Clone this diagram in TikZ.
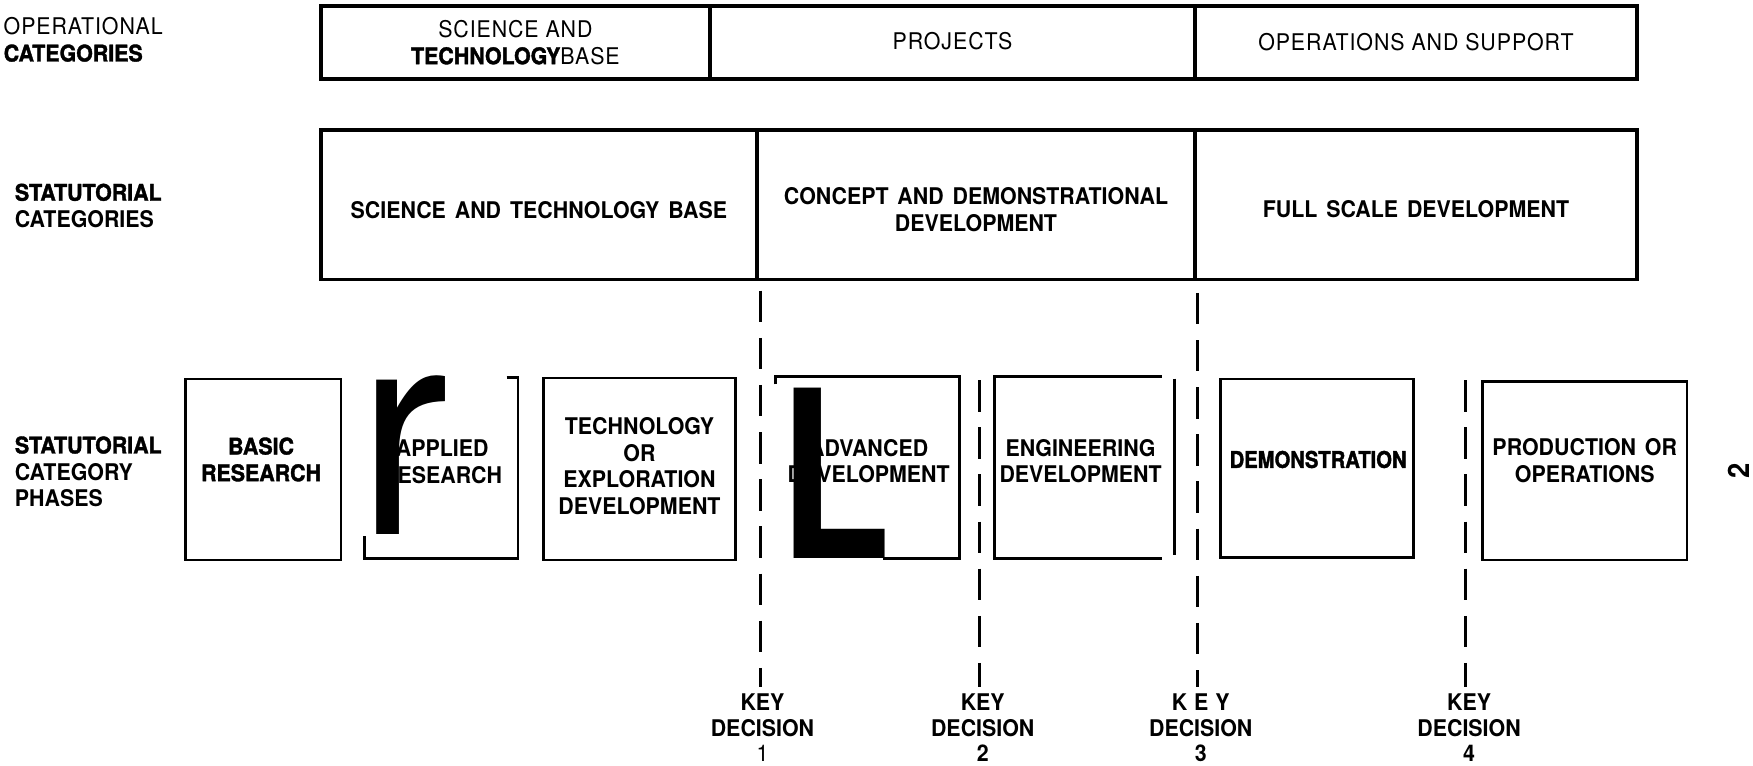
\documentclass[tikz,border=0pt]{standalone}
\usepackage{fontspec}
\setmainfont{TeX Gyre Heros}[FakeStretch=0.93, WordSpace=1.5]
\newfontfamily\lightfont{TeX Gyre Heros}[FakeStretch=0.93, LetterSpace=4]
\newfontfamily\heavyfont{texgyreheros-bold.otf}[FakeStretch=0.93, FakeBold=1.6]
\newfontfamily\glyphfont{TeX Gyre Heros}[FakeStretch=0.78]
\usetikzlibrary{fit}

\tikzset{
  opbox/.style={draw=black, line width=2pt, inner sep=0pt},
  statbox/.style={draw=black, line width=1.9pt, inner sep=0pt},
  phase/.style={draw=black, line width=1.4pt, inner sep=0pt},
  outline/.style={draw=black, line width=1.4pt},
  optext/.style={inner sep=0pt, align=center, font=\lightfont\fontsize{11.7}{13.6}\selectfont},
  boldtext/.style={inner sep=0pt, align=center, font=\bfseries\fontsize{11.7}{13.6}\selectfont},
  heavy/.style={font=\heavyfont\fontsize{11.7}{13.6}\selectfont},
  keyline/.style={draw=black, line width=1.6pt, dash pattern=on 16pt off 8pt},
  keytext/.style={align=center, font=\bfseries\fontsize{11.7}{13}\selectfont},
  sidetext/.style={anchor=west, inner sep=0pt, align=left, font=\fontsize{11.7}{13.6}\selectfont},
  bigglyph/.style={inner sep=0pt}
}

\begin{document}
\begin{tikzpicture}[x=0.02cm, y=-0.02cm]
\useasboundingbox (0,0) rectangle (1568,685);

% operational categories
\node[opbox, fit={(287,5) (635,71)}] (opsci) {};
\node[opbox, fit={(635,5) (1069,71)}] (opproj) {};
\node[opbox, fit={(1069,5) (1464,71)}] (opsup) {};
\node[optext] (opscitxt) at (opsci.center) {SCIENCE AND\\{\heavyfont TECHNOLOGY}BASE};
\node[optext] (opprojtxt) at ([shift={(0,-1)}]opproj.center) {PROJECTS};
\node[optext] (opsuptxt) at (opsup.center) {OPERATIONS AND SUPPORT};

% statutorial categories
\node[statbox, fit={(287,116) (677,250)}] (stsci) {};
\node[statbox, fit={(677,116) (1069,250)}] (stcon) {};
\node[statbox, fit={(1069,116) (1464,250)}] (stfull) {};
\node[boldtext] (stscitxt) at ([shift={(0,5)}]stsci.center) {SCIENCE AND TECHNOLOGY BASE};
\node[boldtext] (stcontxt) at ([shift={(0,4.5)}]stcon.center) {CONCEPT AND DEMONSTRATIONAL\\DEVELOPMENT};
\node[boldtext] (stfulltxt) at ([shift={(0,4)}]stfull.center) {FULL SCALE DEVELOPMENT};

% row labels
\node[sidetext] (oplab) at (3,35.5) {{\lightfont OPERATIONAL}\\{\heavyfont CATEGORIES}};
\node[sidetext] (stlab) at (13,184) {{\heavyfont STATUTORIAL}\\{\bfseries CATEGORIES}};
\node[sidetext] (phlab) at (13,422) {{\heavyfont STATUTORIAL}\\{\bfseries CATEGORY}\\{\bfseries PHASES}};

% phases
\node[phase, fit={(166,339) (305,501)}] (basic) {};
\node[boldtext, heavy] (basictxt) at ([shift={(-2,-9)}]basic.center) {BASIC\\RESEARCH};

\node[phase, draw=none, fit={(327,339) (462,498)}] (app) {};
\draw[outline] ([shift={(-10,0)}]app.north east) -- (app.north east) -- (app.south east)
  -- (app.south west) -- ([shift={(0,-20)}]app.south west);
\node[boldtext] (apptxt) at ([shift={(1,-5.5)}]app.center) {APPLIED\\RESEARCH};

\node[phase, fit={(486,338) (658,501)}] (tech) {};
\node[boldtext] (techtxt) at ([shift={(0,-2.5)}]tech.center) {TECHNOLOGY\\OR\\EXPLORATION\\DEVELOPMENT};

\node[phase, draw=none, fit={(695,338) (857,498)}] (adv) {};
\draw[outline] ([shift={(0,7)}]adv.north west) -- (adv.north west) -- (adv.north east)
  -- (adv.south east) -- ([shift={(-68,0)}]adv.south east);
\node[boldtext] (advtxt) at ([shift={(1,-5.5)}]adv.center) {ADVANCED\\DEVELOPMENT};

\node[phase, draw=none, fit={(891,338) (1038,498)}] (eng) {};
\draw[outline] (eng.north east) -- (eng.north west) -- (eng.south west) -- (eng.south east);
\draw[outline] ([shift={(11,2)}]eng.north east) -- ([shift={(11,-3)}]eng.south east);
\node[boldtext] (engtxt) at ([shift={(2,-5.5)}]eng.center) {ENGINEERING\\DEVELOPMENT};

\node[phase, fit={(1092,339) (1264,499)}] (demo) {};
\node[boldtext, heavy] (demotxt) at ([shift={(1,-8)}]demo.center) {\addfontfeature{FakeStretch=0.88}DEMONSTRATION};

\node[phase, fit={(1326,341) (1509,501)}] (prod) {};
\node[boldtext] (prodtxt) at ([shift={(0,-9)}]prod.center) {PRODUCTION OR\\OPERATIONS};

% stray letters
\node[bigglyph, anchor=base west, font=\fontsize{150}{150}\selectfont] (rglyph) at (319,478) {r};
\node[bigglyph, anchor=base west, font=\glyphfont\bfseries\fontsize{119}{119}\selectfont] (lglyph) at (697,500) {L};
\node[rotate=90, font=\bfseries\fontsize{15}{15}\selectfont] (pageno) at (1555,421) {2};

% key decisions
\node[keytext] (kd1) at (682,651) {KEY\\DECISION\\{\mdseries 1}};
\node[keytext] (kd2) at (879,651) {KEY\\DECISION\\2};
\node[keytext] (kd3) at (1074,651) {{\addfontfeature{LetterSpace=30}KEY}\\DECISION\\3};
\node[keytext] (kd4) at (1314,651) {KEY\\DECISION\\4};
\coordinate (kt1) at (680,260);
\coordinate (kt2) at (876,340);
\coordinate (kt3) at (1071,262);
\coordinate (kt4) at (1311,340);
\draw[keyline] (kt1) -- (kt1 |- kd1.north);
\draw[keyline] (kt2) -- (kt2 |- kd2.north);
\draw[keyline] (kt3) -- (kt3 |- kd3.north);
\draw[keyline] (kt4) -- (kt4 |- kd4.north);
\end{tikzpicture}
\end{document}
